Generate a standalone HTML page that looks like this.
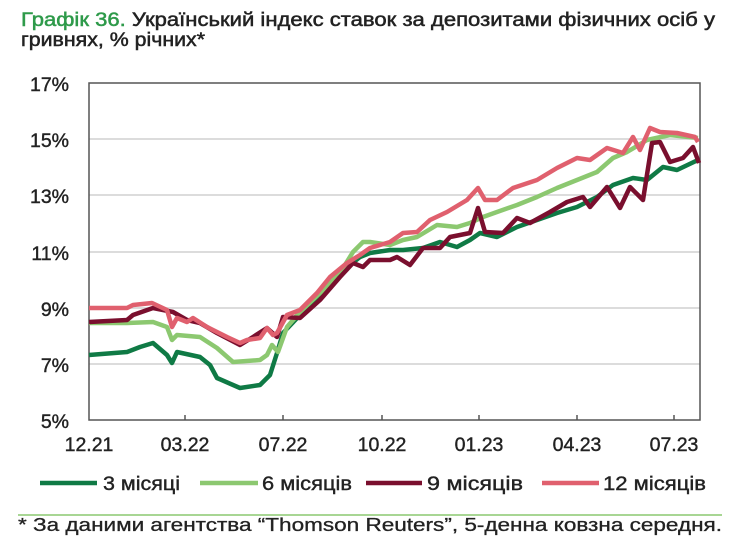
<!DOCTYPE html>
<html><head><meta charset="utf-8"><style>
body{margin:0;background:#fff;width:740px;height:549px;overflow:hidden;font-family:"Liberation Sans",Arial,sans-serif;}
</style></head><body>
<svg width="740" height="549" xmlns="http://www.w3.org/2000/svg" font-family="Liberation Sans, Arial, sans-serif">
<g stroke-width="0.5">
<text x="21" y="26" font-size="19" fill="#222" stroke="#222" textLength="694" lengthAdjust="spacingAndGlyphs"><tspan fill="#2e9a4a" stroke="#2e9a4a">Графік 36.</tspan> Український індекс ставок за депозитами фізичних осіб у</text>
<text x="21" y="46" font-size="19" fill="#222" stroke="#222" textLength="184" lengthAdjust="spacingAndGlyphs">гривнях, % річних*</text>
</g>
<g stroke="#d0d0d0" stroke-width="1.5">
<line x1="89" y1="139" x2="700" y2="139"/><line x1="89" y1="195" x2="700" y2="195"/>
<line x1="89" y1="252" x2="700" y2="252"/><line x1="89" y1="308" x2="700" y2="308"/>
<line x1="89" y1="364" x2="700" y2="364"/>
</g>
<rect x="89" y="83" width="611" height="337" fill="none" stroke="#555" stroke-width="1.5"/>
<g stroke="#555" stroke-width="1.5">
<line x1="185" y1="415" x2="185" y2="420"/><line x1="283" y1="415" x2="283" y2="420"/>
<line x1="382" y1="415" x2="382" y2="420"/><line x1="479" y1="415" x2="479" y2="420"/>
<line x1="577" y1="415" x2="577" y2="420"/><line x1="674" y1="415" x2="674" y2="420"/>
</g>
<g font-size="19.5" fill="#222" stroke="#222" stroke-width="0.4" text-anchor="end">
<text x="69" y="91">17%</text><text x="69" y="147">15%</text><text x="69" y="203">13%</text>
<text x="69" y="260">11%</text><text x="69" y="316">9%</text><text x="69" y="372">7%</text><text x="69" y="428">5%</text>
</g>
<g font-size="19.5" fill="#222" stroke="#222" stroke-width="0.4" text-anchor="middle">
<text x="89" y="451">12.21</text><text x="185" y="451">03.22</text><text x="283" y="451">07.22</text>
<text x="382" y="451">10.22</text><text x="479" y="451">01.23</text><text x="577" y="451">04.23</text><text x="674" y="451">07.23</text>
</g>
<g fill="none" stroke-width="4.5" stroke-linejoin="round">
<polyline stroke="#0f7a45" points="89,355 127,352 140,347 153,343 167,355 172,363 177,352 200,357 210,365 217,378 240,388 260,385 270,375 277,353 283,333 300,315 320,297 340,273 360,257 370,253 390,250 403,250 423,248 440,242 457,247 470,240 480,233 497,237 517,227 537,220 557,213 577,207 597,197 613,185 633,178 647,180 663,167 677,170 698,160"/>
<polyline stroke="#8cc870" points="89,323 127,323 153,322 167,327 172,340 177,335 200,337 217,348 233,362 260,360 267,355 272,345 278,352 287,327 300,312 320,293 340,273 353,252 363,242 370,242 390,245 403,240 417,237 437,225 457,227 470,223 483,217 497,212 517,205 537,197 557,188 577,180 597,172 613,158 627,152 647,140 670,135 698,138"/>
<polyline stroke="#7a0f2e" points="89,322 127,320 133,315 153,308 173,312 187,320 200,323 217,333 240,345 253,337 267,328 277,337 283,317 300,318 320,300 340,277 353,263 363,267 370,260 390,260 397,257 410,265 423,248 440,248 450,237 470,233 478,208 485,232 503,233 517,218 530,223 550,212 567,202 583,197 590,207 607,187 620,208 630,187 643,200 652,143 660,142 670,162 683,158 693,147 699,163"/>
<polyline stroke="#e0606e" points="89,308 127,308 133,305 152,303 167,310 172,327 177,318 187,322 193,318 207,327 227,337 240,343 247,340 260,338 267,328 273,335 277,333 287,315 300,310 317,293 330,277 347,263 360,255 370,248 390,242 403,233 417,232 430,220 447,212 467,200 478,188 485,200 497,200 513,188 537,180 557,168 577,158 590,160 607,148 623,153 633,137 640,150 650,128 660,132 677,133 695,137 698,142"/>
</g>
<g stroke-width="4.5">
<line x1="40" y1="483" x2="97" y2="483" stroke="#0f7a45"/>
<line x1="200" y1="483" x2="258" y2="483" stroke="#8cc870"/>
<line x1="366" y1="483" x2="422" y2="483" stroke="#7a0f2e"/>
<line x1="542" y1="483" x2="599" y2="483" stroke="#e0606e"/>
</g>
<g font-size="19.5" fill="#222" stroke="#222" stroke-width="0.4">
<text x="103" y="490" textLength="77" lengthAdjust="spacingAndGlyphs">3 місяці</text>
<text x="262" y="490" textLength="90" lengthAdjust="spacingAndGlyphs">6 місяців</text>
<text x="427" y="490" textLength="96" lengthAdjust="spacingAndGlyphs">9 місяців</text>
<text x="603" y="490" textLength="103" lengthAdjust="spacingAndGlyphs">12 місяців</text>
</g>
<line x1="18" y1="515" x2="722" y2="515" stroke="#8cc870" stroke-width="1.5"/>
<text x="18" y="531" font-size="18" fill="#222" stroke="#222" stroke-width="0.3" textLength="704" lengthAdjust="spacingAndGlyphs">* За даними агентства “Thomson Reuters”, 5-денна ковзна середня.</text>
</svg>
</body></html>
